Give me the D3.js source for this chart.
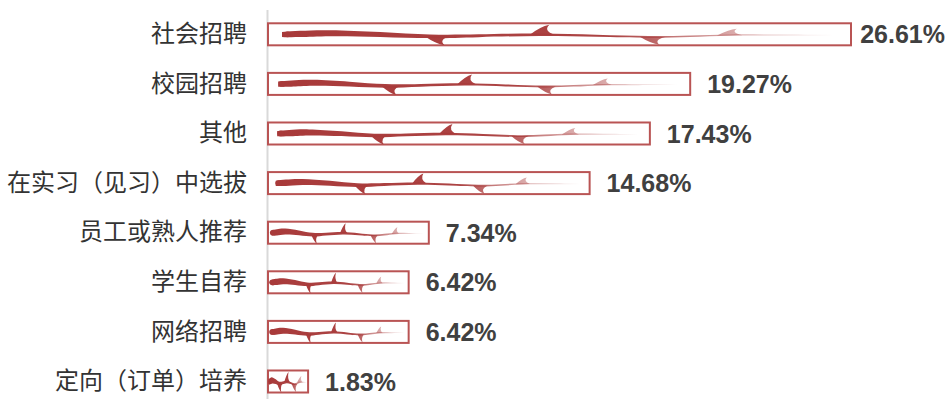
<!DOCTYPE html>
<html>
<head>
<meta charset="utf-8">
<script src="https://cdn.jsdelivr.net/npm/d3@7"></script>
<style>
  body { margin: 0; background: #fff; }
</style>
</head>
<body>
<svg id="bar-svg" width="947" height="399"></svg>
<script>
// Chart data
const categories = ["社会招聘", "校园招聘", "其他", "在实习（见习）中选拔", "员工或熟人推荐", "学生自荐", "网络招聘", "定向（订单）培养"];
const values = [26.61, 19.27, 17.43, 14.68, 7.34, 6.42, 6.42, 1.83];
const valueLabels = ["26.61%", "19.27%", "17.43%", "14.68%", "7.34%", "6.42%", "6.42%", "1.83%"];

// Size parameters
const size = { width: 947, height: 399, left: 267, labelGap: 17 };

const svg = d3.select("#bar-svg");
const defs = svg.append("defs");

// Scales
const x = d3.scaleLinear()
    .domain([0, d3.max(values)])
    .range([268, 851]);

const y = d3.scaleBand()
    .domain(categories)
    .range([9.5, 406.3])
    .paddingInner(0.556)
    .paddingOuter(0.278);

// Left axis with the category names
const axis = svg.append("g")
    .attr("transform", `translate(${size.left},0)`)
    .call(d3.axisLeft(y).tickSize(0).tickPadding(20));

axis.select(".domain")
    .attr("stroke", "#d9d9d9")
    .attr("stroke-width", 2);

axis.selectAll("text")
    .attr("font-family", "'Noto Sans CJK SC', sans-serif")
    .attr("font-size", 24)
    .attr("fill", "#333");

// Vine shape (normalized along the bar: u = 0..1, v = offset px, t = half thickness px)
const stem = [
    [0.00, 0.2, 2.6], [0.03, -0.2, 3.3], [0.08, -1.6, 3.1], [0.18, 0.0, 2.4],
    [0.27, 2.6, 1.8], [0.35, 1.5, 1.4], [0.47, 0.0, 1.2], [0.57, 1.5, 1.0],
    [0.67, 3.0, 0.9], [0.74, 2.0, 0.8], [0.81, 0.5, 0.7], [0.90, 0.8, 0.5],
    [1.00, 0.8, 0.3]
];
// hooks: position, direction (+1 down, -1 up), length
const hooks = [[0.28, 1, 8.5], [0.47, -1, 9.5], [0.67, 1, 7.5], [0.81, -1, 6]];

const stemY = d3.scaleLinear().domain(stem.map(d => d[0])).range(stem.map(d => d[1]));

const rows = categories.map((c, i) => ({ category: c, value: values[i], label: valueLabels[i], i: i }));

const bars = svg.selectAll("g.bar")
    .data(rows)
    .enter().append("g")
    .attr("class", "bar");

// Bar outline
bars.append("rect")
    .attr("x", x(0))
    .attr("y", d => y(d.category))
    .attr("width", d => x(d.value) - x(0))
    .attr("height", y.bandwidth())
    .attr("fill", "#fff")
    .attr("stroke", "#b95454")
    .attr("stroke-width", 2);

// Vine decoration in each bar
bars.each(function(d) {
    const g = d3.select(this);
    const w = x(d.value) - x(0);
    const xs = x(0) + w * 0.024;
    const xe = x(d.value) - w * 0.03;
    const cy = y(d.category) + y.bandwidth() / 2;
    const ux = d3.scaleLinear().domain([0, 1]).range([xs, xe]);

    const grad = defs.append("linearGradient")
        .attr("id", "vine" + d.i)
        .attr("gradientUnits", "userSpaceOnUse")
        .attr("x1", xs).attr("x2", xe).attr("y1", 0).attr("y2", 0);
    grad.append("stop").attr("offset", 0).attr("stop-color", "#a83a3a").attr("stop-opacity", 1);
    grad.append("stop").attr("offset", 0.6).attr("stop-color", "#a83a3a").attr("stop-opacity", 0.95);
    grad.append("stop").attr("offset", 1).attr("stop-color", "#a83a3a").attr("stop-opacity", 0);

    const area = d3.area()
        .x(p => ux(p[0]))
        .y0(p => cy + p[1] + p[2])
        .y1(p => cy + p[1] - p[2])
        .curve(d3.curveBasis);

    g.append("path")
        .attr("d", area(stem))
        .attr("fill", `url(#vine${d.i})`);

    // Round blunt start
    g.append("ellipse")
        .attr("cx", ux(0.01))
        .attr("cy", cy)
        .attr("rx", Math.min(3.5, w * 0.03))
        .attr("ry", 2.9)
        .attr("fill", "#a83a3a");

    // Thorn-like curled hooks
    const b = Math.max(2, Math.min(9, w * 0.016));
    hooks.forEach(h => {
        const bx = ux(h[0]);
        const by = cy + stemY(h[0]);
        const dir = h[1], len = h[2];
        const tx = bx + b * 0.9;
        const ty = by + dir * len;
        const p = d3.path();
        p.moveTo(bx - b * 1.3, by - dir * 0.6);
        p.quadraticCurveTo(bx - b * 0.1, by + dir * len * 0.8, tx, ty);
        p.quadraticCurveTo(bx + b * 0.2, by + dir * len * 0.35, bx + b * 1.5, by - dir * 0.4);
        p.closePath();
        g.append("path")
            .attr("d", p.toString())
            .attr("fill", `url(#vine${d.i})`);
    });
});

// Value labels
bars.append("text")
    .attr("x", d => x(d.value) + size.labelGap)
    .attr("y", d => y(d.category) + y.bandwidth() / 2)
    .attr("dy", "0.36em")
    .attr("font-family", "'Liberation Sans', Arial, sans-serif")
    .attr("font-weight", "bold")
    .attr("font-size", 25)
    .attr("fill", "#404040")
    .text(d => d.label)
    .each(function(d) {
        // keep the label inside the picture
        const len = this.getComputedTextLength();
        const tx = Math.min(x(d.value) + size.labelGap, size.width - len - 2);
        d3.select(this).attr("x", tx);
    });
</script>
</body>
</html>
